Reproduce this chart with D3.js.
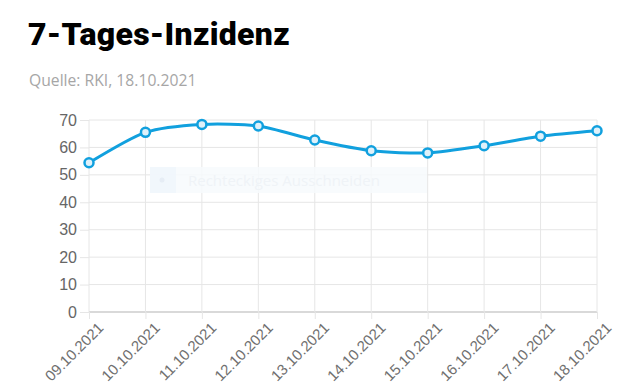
<!DOCTYPE html>
<html>
<head>
<meta charset="utf-8">
<script src="https://cdn.jsdelivr.net/npm/d3@7"></script>
<style>
  body { margin: 0; background: #fff; }
  svg { display: block; }
</style>
</head>
<body>
<svg id="chart" width="640" height="391"></svg>
<script>
// data
const dates = ["09.10.2021", "10.10.2021", "11.10.2021", "12.10.2021", "13.10.2021",
               "14.10.2021", "15.10.2021", "16.10.2021", "17.10.2021", "18.10.2021"];
const incidence = [54.4, 65.5, 68.4, 67.8, 62.7, 58.8, 58.0, 60.6, 64.1, 66.1];
const yTicks = [0, 10, 20, 30, 40, 50, 60, 70];

const title = "7-Tages-Inzidenz";
const source = "Quelle: RKI, 18.10.2021";

const svg = d3.select("#chart");
const margin = {left: 89, right: 43, top: 120, bottom: 79};
const width = 640, height = 391;

const x = d3.scalePoint()
    .domain(dates)
    .range([margin.left, width - margin.right]);

const y = d3.scaleLinear()
    .domain([0, 70])
    .range([height - margin.bottom, margin.top]);

// header
svg.append("text")
    .attr("x", 28).attr("y", 45)
    .attr("font-family", "Roboto, sans-serif")
    .attr("font-weight", 900)
    .attr("font-size", 32)
    .attr("letter-spacing", 0.3)
    .attr("fill", "#000")
    .text(title);

svg.append("text")
    .attr("x", 29).attr("y", 86)
    .attr("font-family", "'Open Sans', sans-serif")
    .attr("font-size", 15.7)
    .attr("fill", "#a6a6a6")
    .text(source);

// horizontal grid + y labels
const yAxis = svg.append("g")
    .attr("transform", `translate(${margin.left},0)`)
    .call(d3.axisLeft(y).tickValues(yTicks).tickSize(9).tickPadding(3)
        .tickFormat(d3.format("d")));
yAxis.select(".domain").remove();
yAxis.selectAll(".tick line").attr("stroke", "#e6e6e6");
yAxis.selectAll(".tick text")
    .attr("font-family", "'Liberation Sans', Arial, sans-serif")
    .attr("font-size", 16)
    .attr("fill", "#666");

svg.append("g").selectAll("line")
    .data(yTicks)
    .join("line")
    .attr("x1", margin.left).attr("x2", width - margin.right)
    .attr("y1", d => y(d)).attr("y2", d => y(d))
    .attr("stroke", d => d === 0 ? "#b3b3b3" : "#e6e6e6")
    .attr("stroke-width", 1);

// vertical grid + x labels
const xAxis = svg.append("g")
    .attr("transform", `translate(0,${y(0)})`)
    .call(d3.axisBottom(x).tickSize(7).tickPadding(4));
xAxis.select(".domain").remove();
xAxis.selectAll(".tick line").attr("stroke", "#e6e6e6");
xAxis.selectAll(".tick text")
    .attr("font-family", "'Liberation Sans', Arial, sans-serif")
    .attr("font-size", 15)
    .attr("fill", "#707070")
    .attr("text-anchor", "end")
    .attr("dy", "0.3em")
    .attr("transform", "translate(4,6) rotate(-45)");

svg.append("g").selectAll("line")
    .data(dates)
    .join("line")
    .attr("x1", d => x(d)).attr("x2", d => x(d))
    .attr("y1", y(70)).attr("y2", y(0))
    .attr("stroke", "#e6e6e6");

// the faint snipping-tool overlay seen in the picture
const ov = svg.append("g");
ov.append("rect").attr("x", 150).attr("y", 167).attr("width", 277).attr("height", 26)
    .attr("fill", "#f7fafd").attr("opacity", 0.85);
ov.append("rect").attr("x", 150).attr("y", 167).attr("width", 26).attr("height", 26)
    .attr("fill", "#f0f6fc").attr("opacity", 0.85);
ov.append("circle").attr("cx", 162).attr("cy", 180).attr("r", 2.5).attr("fill", "#e6edf5");
ov.append("text").attr("x", 188).attr("y", 186)
    .attr("font-family", "'Open Sans', sans-serif")
    .attr("font-size", 15)
    .attr("fill", "#eff3f7")
    .text("Rechteckiges Ausschneiden");

// line
const line = d3.line()
    .x((d, i) => x(dates[i]))
    .y(d => y(d))
    .curve(d3.curveCardinal.tension(0.25));

svg.append("path")
    .datum(incidence)
    .attr("fill", "none")
    .attr("stroke", "#11a0de")
    .attr("stroke-width", 3)
    .attr("d", line);

svg.append("g").selectAll("circle")
    .data(incidence)
    .join("circle")
    .attr("cx", (d, i) => x(dates[i]))
    .attr("cy", d => y(d))
    .attr("r", 4.5)
    .attr("fill", "#dff1fa")
    .attr("stroke", "#11a0de")
    .attr("stroke-width", 2.5);
</script>
</body>
</html>
